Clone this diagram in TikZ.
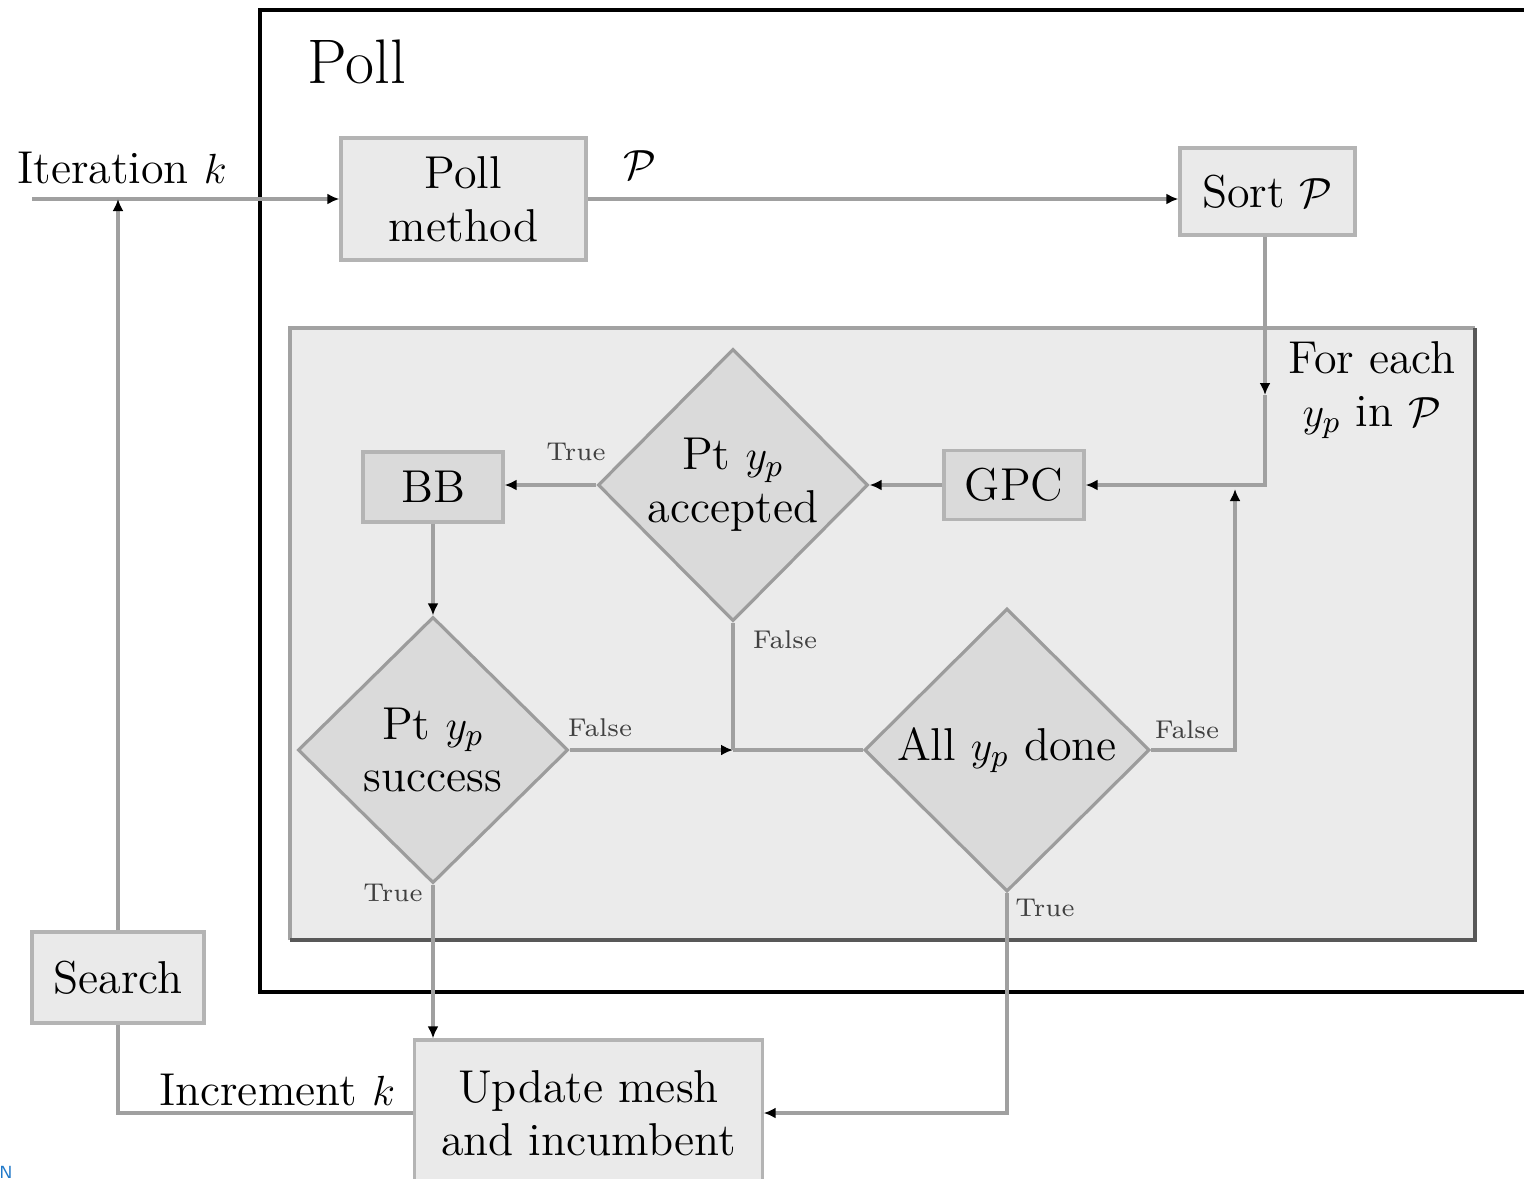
\documentclass[tikz,border=0pt]{standalone}
\usetikzlibrary{shapes.geometric,arrows.meta}
\definecolor{boxfill}{HTML}{EAEAEA}
\definecolor{boxdraw}{HTML}{B4B4B4}
\definecolor{darkfill}{HTML}{DADADA}
\definecolor{diamdraw}{HTML}{9C9C9C}
\definecolor{linegray}{HTML}{A0A0A0}
\definecolor{innerfill}{HTML}{EBEBEB}
\definecolor{innerdraw}{HTML}{A2A2A2}
\definecolor{innerdark}{HTML}{585858}
\definecolor{artblue}{HTML}{1F78C8}
\begin{document}
\begin{tikzpicture}[x=0.01cm,y=-0.01cm,
  mainf/.style={font=\fontsize{13.1}{15}\selectfont},
  smallf/.style={font=\fontsize{7.3}{8.5}\selectfont, text=black!75},
  box/.style={draw=boxdraw, line width=0.9pt, fill=boxfill, align=center, inner sep=0pt, mainf},
  dbox/.style={draw=boxdraw, line width=0.9pt, fill=darkfill, align=center, inner sep=0pt, mainf},
  diam/.style={diamond, draw=diamdraw, line width=0.9pt, fill=darkfill, align=center, inner sep=0pt, mainf},
  plain/.style={draw=linegray, line width=1pt},
  conn/.style={plain, -{Latex[length=1.2mm,width=1.1mm,black]}},
  lbl/.style={mainf, inner sep=0pt}
]
\useasboundingbox (0,0) rectangle (1524,1178);

% outer Poll frame
\draw[line width=0.95pt, black] (1545,10) -| (260,992) -- (1545,992);
\node[inner sep=0pt, font=\fontsize{17.9}{20}\selectfont] (pollh) at (357,62) {Poll};

% inner loop box
\fill[innerfill] (290,328) rectangle (1475,940);
\draw[innerdraw, line width=1.1pt] (290,940) -- (290,328) -- (1475,328);
\draw[innerdark, line width=1.1pt] (1475,328) -- (1475,940) -- (290,940);

% nodes
\node[box, minimum width=2.45cm, minimum height=1.22cm] (pm) at (463.5,199) {Poll\\method};
\node[box, minimum width=1.75cm, minimum height=0.87cm] (sort) at (1267.5,191.5) {Sort $\mathcal{P}$};
\node[dbox, minimum width=1.40cm, minimum height=0.69cm] (gpc) at (1014,485) {GPC};
\node[dbox, minimum width=1.40cm, minimum height=0.70cm] (bb) at (433,487) {BB};
\node[diam, minimum width=2.70cm, minimum height=2.72cm] (acc) at (733,485) {Pt $y_p$\\accepted};
\node[diam, minimum width=2.70cm, minimum height=2.66cm] (succ) at (433,750) {Pt $y_p$\\success};
\node[diam, minimum width=2.85cm, minimum height=2.83cm] (done) at (1007,750) {All $y_p$ done};
\node[box, minimum width=1.72cm, minimum height=0.91cm] (search) at (118,977.5) {Search};
\node[box, minimum width=3.47cm, minimum height=1.46cm] (upd) at (588.5,1113) {Update mesh\\and incumbent};

% coordinates
\coordinate (it) at (32,199);
\coordinate (fe) at (1265,395);
\coordinate (jr) at (1235,489);
\coordinate (jn) at (733,750);

% labels
\node[lbl] (itl) at (122,168) {Iteration $k$};
\node[lbl] (pl) at (640,165) {$\mathcal{P}$};
\node[lbl, align=center] (fel) at (1372,390) {For each\\$y_p$ in $\mathcal{P}$};
\node[lbl] (incl) at (277,1090) {Increment $k$};
\node[smallf] (t1) at (576,452) {True};
\node[smallf] (f1) at (785,640) {False};
\node[smallf] (f2) at (600,728) {False};
\node[smallf] (f3) at (1187,730) {False};
\node[smallf] (t2) at (393,893) {True};
\node[smallf] (t3) at (1045,908) {True};

% connectors
\draw[conn] (it) -- (pm.west);
\draw[conn] (search.north) -- (search.north |- it);
\draw[conn] (pm.east) -- (pm.east -| sort.west);
\draw[conn] (fe |- sort.south) -- (fe);
\draw[conn] (fe) |- (gpc.east);
\draw[conn] (done.east) -| (jr);
\draw[conn] (gpc.west) -- (acc.east);
\draw[conn] (acc.west) -- (acc.west -| bb.east);
\draw[conn] (bb.south) -- (succ.north);
\draw[conn] (succ.east) -- (jn);
\draw[plain] (acc.south) -- (jn);
\draw[plain] (jn) -- (done.west);
\draw[conn] (succ.south) -- (succ.south |- upd.north);
\draw[conn] (done.south) |- (upd.east);
\draw[plain] (upd.west) -| (search.south);

% stray mark
\node[inner sep=0pt, text=artblue, font=\sffamily\fontsize{5}{6}\selectfont] (nmark) at (6,1172) {N};
\end{tikzpicture}
\end{document}
